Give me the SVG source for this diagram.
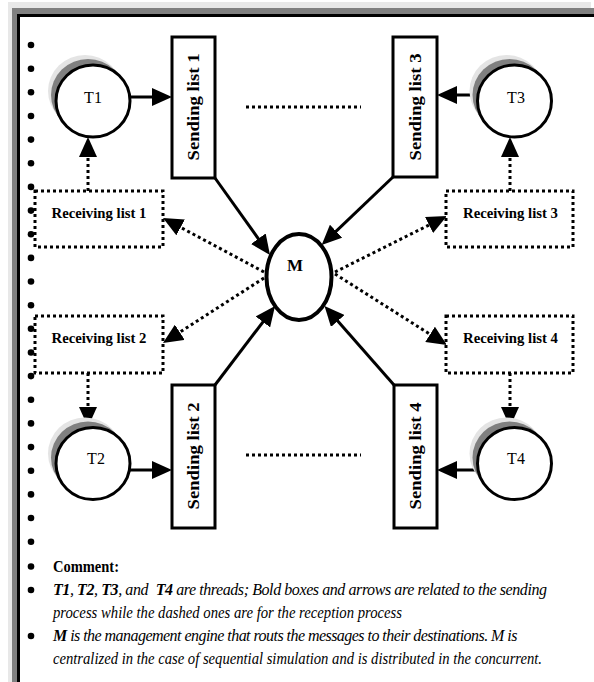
<svg xmlns="http://www.w3.org/2000/svg" width="594" height="682" viewBox="0 0 594 682">
<style>
.lbl{font-family:"Liberation Serif","Times New Roman",serif;fill:#000}
.node{fill:#fff;stroke:#000;stroke-width:3}
.recv{fill:#fff;stroke:#000;stroke-width:3;stroke-dasharray:3 3}
.solid{fill:none;stroke:#000;stroke-width:3;marker-end:url(#ah)}
.dot{fill:none;stroke:#000;stroke-width:3;stroke-dasharray:3 3;marker-end:url(#ah)}
.dotline{fill:none;stroke:#000;stroke-width:3;stroke-dasharray:3 3}
.sh1{fill:#e4e4e4}
.sh2{fill:#808080}
.bul{fill:#000}
.b{font-weight:bold}
.bi{font-weight:bold;font-style:italic}
.it{font-style:italic}
</style>
<defs>
<marker id="ah" markerUnits="userSpaceOnUse" markerWidth="20" markerHeight="18" viewBox="0 0 20 18" refX="14" refY="9" orient="auto">
<path d="M0,0 L20,9 L0,18 z" fill="#000"/>
</marker>
</defs>
<g id="frame">
<rect x="8" y="2" width="583" height="690" fill="#e8e8e8"/>
<rect x="12" y="8" width="590" height="690" fill="#808080"/>
<rect x="17" y="14" width="590" height="690" fill="#000"/>
<rect x="20" y="17" width="590" height="690" fill="#fff"/>
</g>
<g id="bullets" class="bul">
<circle cx="31" cy="45" r="3.3"/><circle cx="31" cy="68.7" r="3.3"/><circle cx="31" cy="92.3" r="3.3"/><circle cx="31" cy="116" r="3.3"/><circle cx="31" cy="139.6" r="3.3"/><circle cx="31" cy="163.3" r="3.3"/><circle cx="31" cy="186.9" r="3.3"/><circle cx="31" cy="210.6" r="3.3"/><circle cx="31" cy="234.2" r="3.3"/><circle cx="31" cy="257.9" r="3.3"/><circle cx="31" cy="281.5" r="3.3"/><circle cx="31" cy="305.2" r="3.3"/><circle cx="31" cy="328.8" r="3.3"/><circle cx="31" cy="352.5" r="3.3"/><circle cx="31" cy="376.1" r="3.3"/><circle cx="31" cy="399.8" r="3.3"/><circle cx="31" cy="423.4" r="3.3"/><circle cx="31" cy="447.1" r="3.3"/><circle cx="31" cy="470.7" r="3.3"/><circle cx="31" cy="494.4" r="3.3"/><circle cx="31" cy="518" r="3.3"/><circle cx="31" cy="541.7" r="3.3"/><circle cx="31" cy="566.5" r="3.3"/><circle cx="31" cy="590" r="3.3"/><circle cx="31" cy="636" r="3.3"/>
</g>
<g id="connectors">
<line class="solid" x1="131" y1="97" x2="166" y2="97"/>
<line class="solid" x1="477" y1="95" x2="443" y2="95"/>
<line class="solid" x1="130" y1="470" x2="166" y2="470"/>
<line class="solid" x1="477" y1="470" x2="443" y2="470"/>
<line class="solid" x1="215" y1="178" x2="266.5" y2="250.1"/>
<line class="solid" x1="393" y1="177" x2="326" y2="240.9"/>
<line class="solid" x1="215" y1="385" x2="271.4" y2="310.8"/>
<line class="solid" x1="394" y1="385" x2="328.5" y2="310.5"/>
<line class="dot" x1="264" y1="272" x2="168.3" y2="220.8"/>
<line class="dot" x1="264" y1="278" x2="168" y2="339.8"/>
<line class="dot" x1="335" y1="272" x2="441.6" y2="218.7"/>
<line class="dot" x1="335" y1="274" x2="441.9" y2="341.8"/>
<line class="dot" x1="88" y1="191" x2="88" y2="143"/>
<line class="dot" x1="510" y1="191" x2="510" y2="143"/>
<line class="dot" x1="88" y1="373" x2="88" y2="421"/>
<line class="dot" x1="510" y1="373" x2="510" y2="421"/>
<line class="dotline" x1="246" y1="107" x2="361" y2="107"/>
<line class="dotline" x1="246" y1="455" x2="361" y2="455"/>
</g>
<g id="T1">
<ellipse class="sh1" cx="85" cy="91" rx="37" ry="36"/>
<ellipse class="sh2" cx="88" cy="95" rx="37" ry="36"/>
<ellipse class="node" cx="93" cy="101" rx="37" ry="36"/>
<text class="lbl" x="93" y="103" font-size="16" text-anchor="middle">T1</text>
</g>
<g id="T3">
<ellipse class="sh1" cx="506.5" cy="91" rx="37" ry="36"/>
<ellipse class="sh2" cx="509.5" cy="95" rx="37" ry="36"/>
<ellipse class="node" cx="514.5" cy="101" rx="37" ry="36"/>
<text class="lbl" x="516" y="103" font-size="16" text-anchor="middle">T3</text>
</g>
<g id="T2">
<ellipse class="sh1" cx="85" cy="453.5" rx="37" ry="36"/>
<ellipse class="sh2" cx="88" cy="457.5" rx="37" ry="36"/>
<ellipse class="node" cx="93" cy="463.5" rx="37" ry="36"/>
<text class="lbl" x="96" y="464" font-size="16" text-anchor="middle">T2</text>
</g>
<g id="T4">
<ellipse class="sh1" cx="506.5" cy="453.5" rx="37" ry="36"/>
<ellipse class="sh2" cx="509.5" cy="457.5" rx="37" ry="36"/>
<ellipse class="node" cx="514.5" cy="463.5" rx="37" ry="36"/>
<text class="lbl" x="516" y="464" font-size="16" text-anchor="middle">T4</text>
</g>
<g id="SL1">
<rect class="node" x="172" y="37" width="43" height="141"/>
<text class="lbl b" font-size="16" text-anchor="middle" transform="translate(199,107) rotate(-90)" textLength="107" lengthAdjust="spacingAndGlyphs">Sending list 1</text>
</g>
<g id="SL3">
<rect class="node" x="393" y="37" width="44" height="140"/>
<text class="lbl b" font-size="16" text-anchor="middle" transform="translate(421,107) rotate(-90)" textLength="107" lengthAdjust="spacingAndGlyphs">Sending list 3</text>
</g>
<g id="SL2">
<rect class="node" x="172" y="385" width="43" height="143"/>
<text class="lbl b" font-size="16" text-anchor="middle" transform="translate(199,456) rotate(-90)" textLength="107" lengthAdjust="spacingAndGlyphs">Sending list 2</text>
</g>
<g id="SL4">
<rect class="node" x="394" y="385" width="43" height="143"/>
<text class="lbl b" font-size="16" text-anchor="middle" transform="translate(421,456) rotate(-90)" textLength="107" lengthAdjust="spacingAndGlyphs">Sending list 4</text>
</g>
<g id="RL1">
<rect class="recv" x="35" y="191" width="128" height="56"/>
<text class="lbl b" x="99" y="218" font-size="15" text-anchor="middle" textLength="95" lengthAdjust="spacingAndGlyphs">Receiving list 1</text>
</g>
<g id="RL3">
<rect class="recv" x="446" y="191" width="127" height="56"/>
<text class="lbl b" x="510.5" y="218" font-size="15" text-anchor="middle" textLength="95" lengthAdjust="spacingAndGlyphs">Receiving list 3</text>
</g>
<g id="RL2">
<rect class="recv" x="35" y="316" width="128" height="57"/>
<text class="lbl b" x="99" y="343" font-size="15" text-anchor="middle" textLength="95" lengthAdjust="spacingAndGlyphs">Receiving list 2</text>
</g>
<g id="RL4">
<rect class="recv" x="446" y="316" width="127" height="57"/>
<text class="lbl b" x="510.5" y="343" font-size="15" text-anchor="middle" textLength="95" lengthAdjust="spacingAndGlyphs">Receiving list 4</text>
</g>
<g id="M">
<ellipse cx="299" cy="277" rx="32.5" ry="43" fill="#fff" stroke="#000" stroke-width="4"/>
<text class="lbl b" x="295" y="271" font-size="17" text-anchor="middle">M</text>
</g>
<g id="comment" class="lbl" font-size="16">
<text class="b" x="53" y="572" textLength="66" lengthAdjust="spacingAndGlyphs">Comment:</text>
<text x="53" y="595" letter-spacing="-0.42"><tspan class="bi">T1</tspan><tspan class="it">, </tspan><tspan class="bi">T2</tspan><tspan class="it">, </tspan><tspan class="bi">T3</tspan><tspan class="it">, and </tspan><tspan class="bi" dx="4">T4</tspan><tspan class="it"> are threads; Bold boxes and arrows are related to the sending</tspan></text>
<text class="it" x="53" y="618" textLength="349" lengthAdjust="spacingAndGlyphs">process while the dashed ones are for the reception process</text>
<text x="53" y="641" letter-spacing="-0.54"><tspan class="bi">M</tspan><tspan class="it"> is the management engine that routs the messages to their destinations. M is</tspan></text>
<text class="it" x="53" y="664" textLength="489" lengthAdjust="spacingAndGlyphs">centralized in the case of sequential simulation and is distributed in the concurrent.</text>
</g>
</svg>
